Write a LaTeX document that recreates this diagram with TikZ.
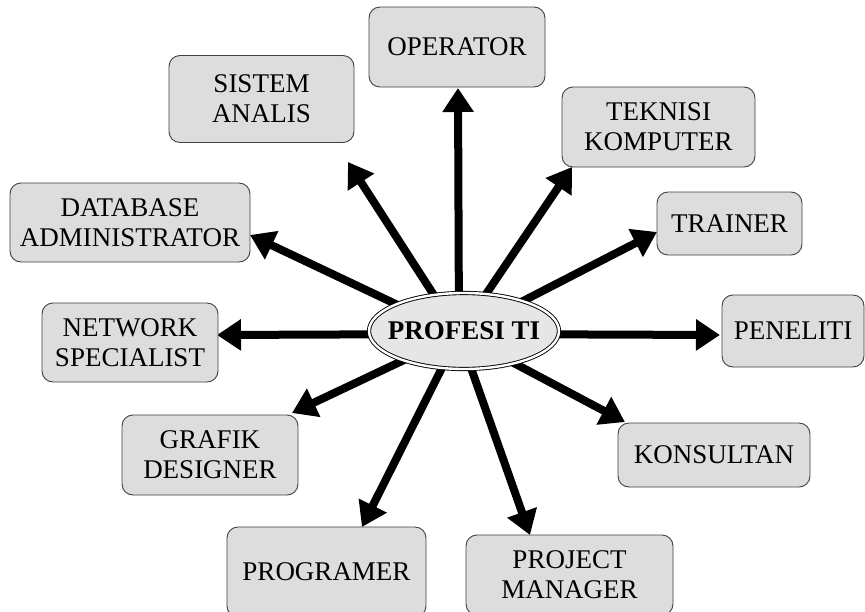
\documentclass[tikz,border=0pt]{standalone}
\usepackage{fontspec}
\setmainfont{Liberation Serif}
\usetikzlibrary{shapes.geometric}
\usetikzlibrary{arrows.meta}
\usetikzlibrary{backgrounds}
\definecolor{boxgray}{HTML}{DDDDDD}
\definecolor{hubgray}{HTML}{E6E6E6}
\tikzset{box/.style={draw=black!75,line width=0.9pt,fill=boxgray,rounded corners=11pt,
    align=center,inner sep=0pt,font=\fontsize{27}{30}\selectfont}
}
\tikzset{hub/.style={ellipse,draw=black,line width=0.9pt,double=white,double distance=2.4pt,
    fill=hubgray,inner xsep=-25pt,inner ysep=0pt,font=\fontsize{27}{30}\selectfont\bfseries}
}
\tikzset{spoke/.style={line width=8pt,-{Triangle[length=24pt,width=30pt]}}}

\begin{document}
\begin{tikzpicture}[x=1pt,y=-1pt]
                \useasboundingbox (0,0) rectangle (865,611);

                % Centre
                \node[hub,minimum width=190,minimum height=76] (hub) at (464,331) {PROFESI TI};

                % Professions
                \node[box,minimum width=176,minimum height=80] (operator) at (457,47) {OPERATOR};
                \node[box,minimum width=185,minimum height=87] (sistem) at (261.5,99) {SISTEM\\ANALIS};
                \node[box,minimum width=193,minimum height=80] (teknisi) at (658.5,127) {TEKNISI\\KOMPUTER};
                \node[box,minimum width=240,minimum height=79] (database) at (130,222.5) {DATABASE\\ADMINISTRATOR};
                \node[box,minimum width=145,minimum height=63] (trainer) at (729.5,223.5) {TRAINER};
                \node[box,minimum width=176,minimum height=79] (network) at (130,342.5) {NETWORK\\SPECIALIST};
                \node[box,minimum width=142,minimum height=72] (peneliti) at (793,331) {PENELITI};
                \node[box,minimum width=176,minimum height=80] (grafik) at (210,455) {GRAFIK\\DESIGNER};
                \node[box,minimum width=192,minimum height=64] (konsultan) at (714,455) {KONSULTAN};
                \node[box,minimum width=199,minimum height=90] (programer) at (326.5,572) {PROGRAMER};
                \node[box,minimum width=207,minimum height=80] (project) at (569.5,575) {PROJECT\\MANAGER};

                % Arrow tips
                \coordinate (tOperator) at (458,88);
                \coordinate (tSistem) at (348,162);
                \coordinate (tTeknisi) at (572,167);
                \coordinate (tDatabase) at (250,235);
                \coordinate (tTrainer) at (657,232);
                \coordinate (tNetwork) at (217,335);
                \coordinate (tPeneliti) at (720,335);
                \coordinate (tGrafik) at (292,413);
                \coordinate (tKonsultan) at (625,422);
                \coordinate (tProgramer) at (362,527);
                \coordinate (tProject) at (530,535);

                % Arrows
                \begin{scope}[on background layer]
                    \coordinate (c) at ([yshift=-3pt,xshift=-5pt]hub.center);
                    \foreach \t in {tOperator,tSistem,tTeknisi,tDatabase,tTrainer,tNetwork,
                                    tPeneliti,tGrafik,tKonsultan,tProgramer,tProject}
                        \draw[spoke] (c) -- (\t);
                \end{scope}
            \end{tikzpicture}
\end{document}
